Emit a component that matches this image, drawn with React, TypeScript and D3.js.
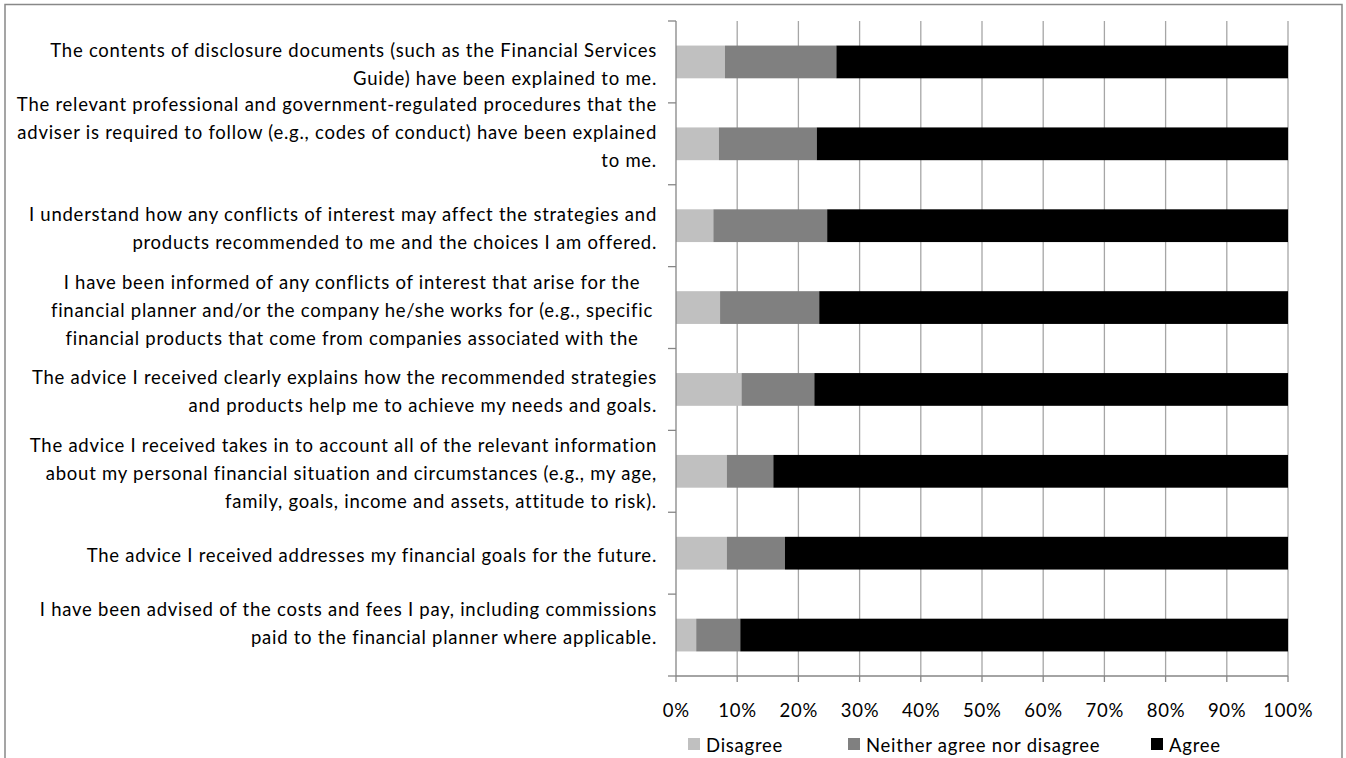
import React from "react";
import * as d3 from "d3";

const categories: string[][] = [
  ["The contents of disclosure documents (such as the Financial Services", "Guide) have been explained to me."],
  ["The relevant professional and government-regulated procedures that the", "adviser is required to follow (e.g., codes of conduct) have been explained", "to me.", ""],
  ["I understand how any conflicts of interest may affect the strategies and", "products recommended to me and the choices I am offered."],
  ["I have been informed of any conflicts of interest that arise for the", "financial planner and/or the company he/she works for (e.g., specific", "financial products that come from companies associated with the"],
  ["The advice I received clearly explains how the recommended strategies", "and products help me to achieve my needs and goals."],
  ["The advice I received takes in to account all of the relevant information", "about my personal financial situation and circumstances (e.g., my age,", "family, goals, income and assets, attitude to risk)."],
  ["The advice I received addresses my financial goals for the future."],
  ["I have been advised of the costs and fees I pay, including commissions", "paid to the financial planner where applicable.", ""],
];
// label 4 is drawn centred (truncated label in the original)
const centeredLabels = [3];

const seriesNames = ["Disagree", "Neither agree nor disagree", "Agree"];
const disagree = [8.0, 7.0, 6.1, 7.2, 10.7, 8.3, 8.3, 3.3];
const neither = [18.2, 16.0, 18.6, 16.2, 11.9, 7.6, 9.5, 7.2];
const agree = [73.8, 77.0, 75.3, 76.6, 77.4, 84.1, 82.2, 89.5];
const seriesColors = ["#c0c0c0", "#808080", "#000000"];
const xTicks = [0, 10, 20, 30, 40, 50, 60, 70, 80, 90, 100];

const W = 1346;
const H = 758;
const plotLeft = 676;
const plotRight = 1288;
const plotTop = 21;
const plotBottom = 676;
const FONT = "Lato, 'Open Sans', sans-serif";
const fs = 18.5;
const ls = 0.75;
const lineH = 28;

export default function App() {
  const x = d3.scaleLinear().domain([0, 100]).range([plotLeft, plotRight]);
  const y = d3
    .scaleBand<number>()
    .domain(d3.range(categories.length))
    .range([plotTop, plotBottom])
    .paddingInner(0.6)
    .paddingOuter(0.3);
  const step = y.step();
  const rows = categories.map((_, i) => [disagree[i], neither[i], agree[i]]);
  const stackGen = d3.stack<number[]>().keys([0, 1, 2] as any).value((d, k) => d[k as any]);
  const stacked = stackGen(rows);

  const labelRight = 657;
  return (
    <svg
      width={W}
      height={H}
      style={{ position: "absolute", left: 0, top: 0, background: "#fff" }}
      fontFamily={FONT}
      letterSpacing={ls}
    >
      <rect x={5} y={4.5} width={1337} height={H + 10} fill="#fff" stroke="#888" strokeWidth={1.5} />
      {/* gridlines */}
      {xTicks.slice(1).map((t) => (
        <line key={"g" + t} x1={x(t)} x2={x(t)} y1={plotTop} y2={plotBottom} stroke="#a6a6a6" strokeWidth={1.3} />
      ))}
      {/* bars */}
      {stacked.map((s, si) =>
        s.map((d, i) => (
          <rect
            key={si + "-" + i}
            x={x(d[0])}
            y={y(i)!}
            width={x(d[1]) - x(d[0])}
            height={y.bandwidth()}
            fill={seriesColors[si]}
          />
        ))
      )}
      {/* category axis */}
      <line x1={plotLeft} x2={plotLeft} y1={plotTop} y2={plotBottom} stroke="#868686" strokeWidth={1.3} />
      {d3.range(categories.length + 1).map((i) => (
        <line
          key={"ct" + i}
          x1={plotLeft - 8}
          x2={plotLeft}
          y1={plotTop + i * step}
          y2={plotTop + i * step}
          stroke="#868686"
          strokeWidth={1.3}
        />
      ))}
      {/* value axis */}
      <line x1={plotLeft} x2={plotRight} y1={plotBottom} y2={plotBottom} stroke="#868686" strokeWidth={1.3} />
      {xTicks.map((t) => (
        <g key={"xt" + t}>
          <line x1={x(t)} x2={x(t)} y1={plotBottom} y2={plotBottom + 6} stroke="#868686" strokeWidth={1.3} />
          <text x={x(t) + ls / 2} y={710} textAnchor="middle" dominantBaseline="central" fontSize={fs} fill="#000">
            {t + "%"}
          </text>
        </g>
      ))}
      {/* category labels */}
      {categories.map((lines, i) => {
        const c = plotTop + (i + 0.5) * step + 2;
        const n = lines.length;
        const centered = centeredLabels.includes(i);
        return (
          <text
            key={"cl" + i}
            fontSize={fs}
            fill="#000"
            textAnchor={centered ? "middle" : "end"}
            dominantBaseline="central"
          >
            {lines.map((ln, j) => (
              <tspan key={j} x={centered ? 352 : labelRight} y={c + (j - (n - 1) / 2) * lineH}>
                {ln}
              </tspan>
            ))}
          </text>
        );
      })}
      {/* legend */}
      {[
        { name: seriesNames[0], sx: 688 },
        { name: seriesNames[1], sx: 848 },
        { name: seriesNames[2], sx: 1151 },
      ].map((l, i) => (
        <g key={"lg" + i}>
          <rect x={l.sx} y={738} width={12} height={12} fill={seriesColors[i]} />
          <text x={l.sx + 18} y={745} dominantBaseline="central" fontSize={fs} fill="#000">
            {l.name}
          </text>
        </g>
      ))}
    </svg>
  );
}
